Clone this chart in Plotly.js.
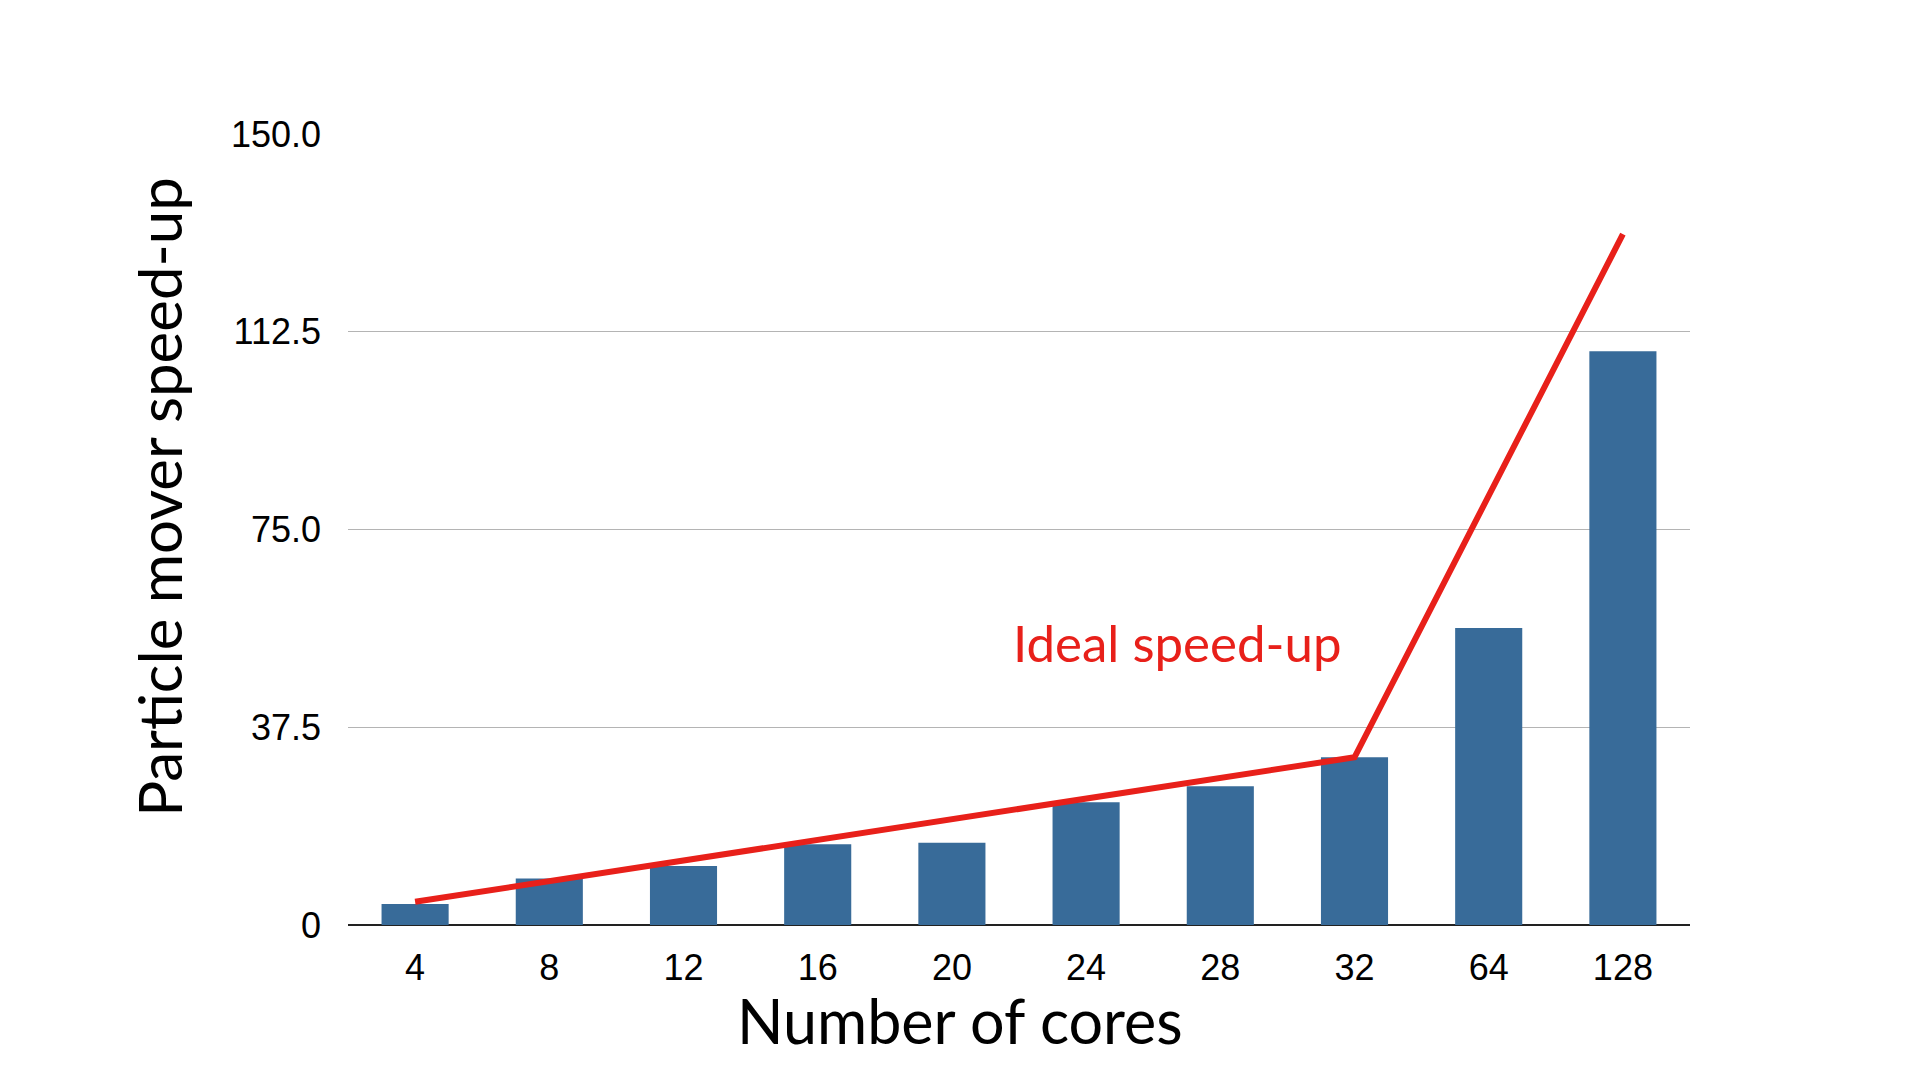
<!DOCTYPE html>
<html>
<head>
<meta charset="utf-8">
<script src="https://cdn.plot.ly/plotly-3.0.1.min.js"></script>
<style>
  html, body { margin: 0; padding: 0; background: #fff; }
  #plot { width: 1920px; height: 1080px; }
</style>
</head>
<body>
<div id="plot"></div>
<script>
// cores on the x axis (categorical)
const cores = ['4', '8', '12', '16', '20', '24', '28', '32', '64', '128'];
// measured speed-up of the particle mover
const speedup = [4.0, 8.8, 11.2, 15.3, 15.6, 23.3, 26.3, 31.8, 56.3, 108.8];

// ideal speed-up line (drawn straight from 4 to 32, then to 128)
const idealCores = ['4', '32', '128'];
const idealSpeedup = [4.4, 31.8, 131];

const yTickVals = [0, 37.5, 75, 112.5, 150];
const yTickText = ['0', '37.5', '75.0', '112.5', '150.0'];

const barTrace = {
    x: cores,
    y: speedup,
    type: 'bar',
    marker: { color: '#386b99' },
    hoverinfo: 'x+y'
};

const idealTrace = {
    x: idealCores,
    y: idealSpeedup,
    type: 'scatter',
    mode: 'lines',
    line: { color: '#e8201a', width: 6 },
    hoverinfo: 'skip'
};

const layout = {
    width: 1920,
    height: 1080,
    margin: { l: 348, r: 230, t: 134, b: 155 },
    paper_bgcolor: '#fff',
    plot_bgcolor: '#fff',
    showlegend: false,
    bargap: 0.5,
    font: { family: 'Liberation Sans, Arial, sans-serif', color: '#000' },
    xaxis: {
        type: 'category',
        categoryorder: 'array',
        categoryarray: cores,
        range: [-0.5, 9.5],
        showgrid: false,
        showline: false,
        zeroline: false,
        ticks: '',
        ticklabelstandoff: 18,
        tickfont: { size: 36, color: '#000' }
    },
    yaxis: {
        range: [0, 150],
        tickvals: yTickVals,
        ticktext: yTickText,
        showgrid: true,
        gridcolor: '#b4b4b4',
        gridwidth: 1,
        zeroline: true,
        zerolinecolor: '#222',
        zerolinewidth: 1.5,
        showline: false,
        ticks: '',
        ticklabelstandoff: 26,
        tickfont: { size: 36, color: '#000' }
    },
    annotations: [
        {
            text: 'Ideal speed-up',
            xref: 'paper', yref: 'paper',
            x: 0.618, y: 0.357,
            xanchor: 'center', yanchor: 'middle',
            showarrow: false,
            font: { family: 'Lato, Open Sans, sans-serif', size: 51, color: '#e8201a' }
        },
        {
            text: 'Number of cores',
            xref: 'paper', yref: 'paper',
            x: 0.456, y: -0.121,
            xanchor: 'center', yanchor: 'middle',
            showarrow: false,
            font: { family: 'Lato, Open Sans, sans-serif', size: 61, color: '#000' }
        },
        {
            text: 'Particle mover speed-up',
            xref: 'paper', yref: 'paper',
            x: -0.141, y: 0.541,
            xanchor: 'center', yanchor: 'middle',
            textangle: -90,
            showarrow: false,
            font: { family: 'Lato, Open Sans, sans-serif', size: 60, color: '#000' }
        }
    ]
};

Plotly.newPlot('plot', [barTrace, idealTrace], layout, { displayModeBar: false, staticPlot: true });
</script>
</body>
</html>
